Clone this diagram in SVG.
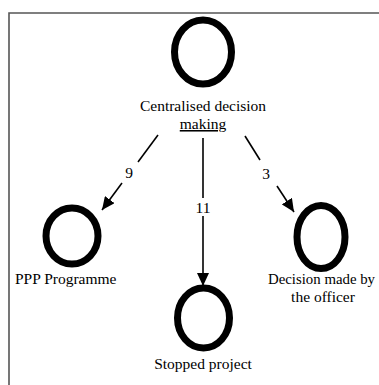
<svg xmlns="http://www.w3.org/2000/svg" width="379" height="385" viewBox="0 0 379 385">
  <style>
    .ring { fill: none; stroke: #000; stroke-width: 7; }
    .lbl { font-family: "Liberation Serif", "DejaVu Serif", "Times New Roman", serif; font-size: 15.5px; fill: #000; }
    .mid { text-anchor: middle; }
    .edge { fill: none; stroke: #000; stroke-width: 1.6; }
    .frame { fill: none; stroke: #555; stroke-width: 1.6; }
  </style>
  <defs>
    <marker id="head" markerUnits="userSpaceOnUse" markerWidth="14" markerHeight="12" refX="13" refY="6" orient="auto">
      <path d="M0,0 L13,6 L0,12 Z" fill="#000"/>
    </marker>
  </defs>
  <rect width="379" height="385" fill="#fff"/>
  <!-- frame: top and left border only -->
  <path class="frame" d="M9,385 V13 H379"/>

  <g id="node-centralised">
    <ellipse class="ring" cx="203" cy="52" rx="28.5" ry="32"/>
    <text class="lbl mid" x="203" y="111">Centralised decision</text>
    <text class="lbl mid" x="203" y="129" text-decoration="underline">making</text>
  </g>

  <g id="node-ppp">
    <ellipse class="ring" cx="72" cy="236" rx="26" ry="28"/>
    <text class="lbl" x="15" y="284">PPP Programme</text>
  </g>

  <g id="node-stopped">
    <ellipse class="ring" cx="203.5" cy="318" rx="26" ry="30"/>
    <text class="lbl mid" x="203" y="369">Stopped project</text>
  </g>

  <g id="node-officer">
    <ellipse class="ring" cx="321" cy="237" rx="24" ry="31.5"/>
    <text class="lbl" x="268" y="284" textLength="107" lengthAdjust="spacingAndGlyphs">Decision made by</text>
    <text class="lbl mid" x="323" y="302">the officer</text>
  </g>

  <g id="connectors">
    <!-- 9 : to PPP Programme -->
    <line class="edge" x1="158" y1="135" x2="138" y2="162"/>
    <line class="edge" x1="122" y1="183" x2="102" y2="210" marker-end="url(#head)"/>
    <text class="lbl mid" x="129" y="178">9</text>
    <!-- 11 : to Stopped project -->
    <line class="edge" x1="203" y1="138" x2="203" y2="198"/>
    <line class="edge" x1="203" y1="216" x2="203" y2="286" marker-end="url(#head)"/>
    <text class="lbl mid" x="203" y="213">11</text>
    <!-- 3 : to Decision made by the officer -->
    <line class="edge" x1="245" y1="136" x2="260" y2="160"/>
    <line class="edge" x1="277" y1="186" x2="294" y2="212" marker-end="url(#head)"/>
    <text class="lbl mid" x="266" y="179">3</text>
  </g>
</svg>
